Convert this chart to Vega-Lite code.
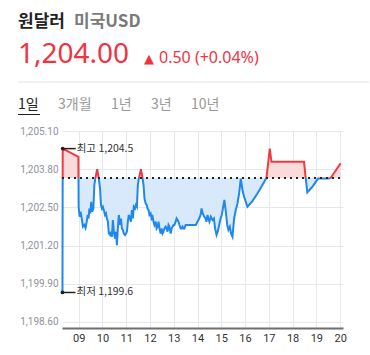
{
"$schema": "https://vega.github.io/schema/vega-lite/v6.json",
"padding": {"left": 17, "top": 13, "right": 0, "bottom": 0},
"spacing": 0,
"config": {"view": {"stroke": null}, "axis": {"labelOverlap": false, "labelFlush": false}},
"vconcat": [
 {"spacing": 0, "hconcat": [
  {"data": {"values": [{}]}, "mark": {"type": "point", "filled": true, "size": 0, "opacity": 0}, "width": 1, "height": 1,
   "title": {"text": "원달러", "anchor": "start", "frame": "group", "baseline": "alphabetic", "offset": -4, "font": "Noto Sans CJK KR", "fontSize": 17, "fontWeight": "bold", "color": "#222222"}},
  {"data": {"values": [{}]}, "mark": {"type": "point", "filled": true, "size": 0, "opacity": 0}, "width": 1, "height": 1,
   "title": {"text": "미국USD", "anchor": "start", "frame": "group", "baseline": "alphabetic", "offset": -4, "dx": 9, "font": "Noto Sans CJK KR", "fontSize": 17, "fontWeight": "bold", "color": "#7a7a7a"}}
 ]},
 {"spacing": 0, "hconcat": [
  {"data": {"values": [{}]}, "mark": {"type": "point", "filled": true, "size": 0, "opacity": 0}, "width": 1, "height": 1,
   "title": {"text": "1,204.00", "anchor": "start", "frame": "group", "baseline": "alphabetic", "offset": -11, "font": "Noto Sans", "fontSize": 28, "fontWeight": "normal", "color": "#f2333f"}},
  {"data": {"values": [{}]}, "mark": {"type": "point", "filled": true, "size": 0, "opacity": 0}, "width": 1, "height": 1,
   "title": {"text": "▲", "anchor": "start", "frame": "group", "baseline": "alphabetic", "offset": 4, "dx": 14, "font": "DejaVu Sans", "fontSize": 13, "fontWeight": "normal", "color": "#f2333f"}},
  {"data": {"values": [{}]}, "mark": {"type": "point", "filled": true, "size": 0, "opacity": 0}, "width": 1, "height": 1,
   "title": {"text": "0.50 (+0.04%)", "anchor": "start", "frame": "group", "baseline": "alphabetic", "offset": 1, "dx": 5, "font": "Noto Sans", "fontSize": 16, "fontWeight": "normal", "color": "#f2333f"}}
 ]},
 {"data": {"values": [{}]}, "width": 351, "height": 16,
  "mark": {"type": "rule", "color": "#e2e2e2", "strokeWidth": 1},
  "encoding": {"y": {"datum": 1, "type": "quantitative", "scale": {"domain": [0, 1]}, "axis": null}}},
 {"spacing": 0, "hconcat": [
  {"data": {"values": [{}]}, "mark": {"type": "point", "filled": true, "size": 0, "opacity": 0}, "width": 22, "height": 1, "view": {"fill": "#222222", "stroke": null},
   "title": {"text": "1일", "anchor": "start", "frame": "group", "baseline": "alphabetic", "offset": -9, "font": "Noto Sans CJK KR", "fontSize": 14, "fontWeight": "normal", "color": "#222222"}},
  {"data": {"values": [{}]}, "mark": {"type": "point", "filled": true, "size": 0, "opacity": 0}, "width": 1, "height": 12,
   "title": {"text": "3개월", "anchor": "start", "frame": "group", "baseline": "alphabetic", "offset": -9, "dx": 18, "font": "Noto Sans CJK KR", "fontSize": 14, "fontWeight": "normal", "color": "#999999"}},
  {"data": {"values": [{}]}, "mark": {"type": "point", "filled": true, "size": 0, "opacity": 0}, "width": 1, "height": 12,
   "title": {"text": "1년", "anchor": "start", "frame": "group", "baseline": "alphabetic", "offset": -9, "dx": 19, "font": "Noto Sans CJK KR", "fontSize": 14, "fontWeight": "normal", "color": "#999999"}},
  {"data": {"values": [{}]}, "mark": {"type": "point", "filled": true, "size": 0, "opacity": 0}, "width": 1, "height": 12,
   "title": {"text": "3년", "anchor": "start", "frame": "group", "baseline": "alphabetic", "offset": -9, "dx": 19, "font": "Noto Sans CJK KR", "fontSize": 14, "fontWeight": "normal", "color": "#999999"}},
  {"data": {"values": [{}]}, "mark": {"type": "point", "filled": true, "size": 0, "opacity": 0}, "width": 1, "height": 12,
   "title": {"text": "10년", "anchor": "start", "frame": "group", "baseline": "alphabetic", "offset": -9, "dx": 19, "font": "Noto Sans CJK KR", "fontSize": 14, "fontWeight": "normal", "color": "#999999"}}
 ]},
 {"spacing": 0, "hconcat": [
  {"data": {"values": [{}]}, "mark": {"type": "point", "filled": true, "size": 0, "opacity": 0}, "width": 1, "height": 1},
  {"width": 281, "height": 197,
   "data": {"values": [
{"t":8.32,"v":1199.6},{"t":8.33,"v":1204.5},{"t":8.99,"v":1204.22},{"t":9.0,"v":1202.52},{"t":9.04,"v":1202.18},{"t":9.08,"v":1202.35},{"t":9.13,"v":1202.12},{"t":9.18,"v":1201.84},{"t":9.24,"v":1201.9},{"t":9.29,"v":1201.8},{"t":9.34,"v":1202.01},{"t":9.38,"v":1202.24},{"t":9.42,"v":1202.12},{"t":9.45,"v":1202.46},{"t":9.49,"v":1202.29},{"t":9.53,"v":1202.69},{"t":9.57,"v":1202.35},{"t":9.62,"v":1202.46},{"t":9.66,"v":1203.26},{"t":9.7,"v":1203.48},{"t":9.78,"v":1203.8},{"t":9.85,"v":1203.48},{"t":9.9,"v":1203.14},{"t":9.94,"v":1202.58},{"t":9.98,"v":1202.46},{"t":10.02,"v":1202.52},{"t":10.06,"v":1202.41},{"t":10.11,"v":1202.24},{"t":10.15,"v":1202.29},{"t":10.19,"v":1202.12},{"t":10.23,"v":1202.01},{"t":10.27,"v":1201.61},{"t":10.32,"v":1201.56},{"t":10.36,"v":1201.67},{"t":10.4,"v":1201.5},{"t":10.44,"v":1202.07},{"t":10.48,"v":1201.67},{"t":10.53,"v":1201.44},{"t":10.57,"v":1201.67},{"t":10.61,"v":1201.21},{"t":10.65,"v":1201.78},{"t":10.69,"v":1202.24},{"t":10.74,"v":1201.9},{"t":10.78,"v":1202.12},{"t":10.82,"v":1201.78},{"t":10.86,"v":1201.73},{"t":10.9,"v":1201.61},{"t":10.95,"v":1201.56},{"t":10.99,"v":1201.61},{"t":11.03,"v":1201.67},{"t":11.07,"v":1202.01},{"t":11.11,"v":1202.24},{"t":11.16,"v":1202.12},{"t":11.2,"v":1202.01},{"t":11.24,"v":1202.41},{"t":11.28,"v":1202.12},{"t":11.32,"v":1202.52},{"t":11.37,"v":1202.46},{"t":11.41,"v":1202.58},{"t":11.45,"v":1202.52},{"t":11.49,"v":1203.26},{"t":11.53,"v":1203.48},{"t":11.62,"v":1203.8},{"t":11.69,"v":1203.48},{"t":11.73,"v":1203.26},{"t":11.77,"v":1202.8},{"t":11.82,"v":1202.63},{"t":11.86,"v":1202.58},{"t":11.9,"v":1202.46},{"t":11.94,"v":1202.41},{"t":11.98,"v":1202.24},{"t":12.03,"v":1202.29},{"t":12.07,"v":1202.12},{"t":12.11,"v":1202.18},{"t":12.15,"v":1202.01},{"t":12.19,"v":1201.9},{"t":12.24,"v":1202.01},{"t":12.28,"v":1201.78},{"t":12.32,"v":1201.84},{"t":12.36,"v":1202.01},{"t":12.4,"v":1201.78},{"t":12.45,"v":1201.61},{"t":12.49,"v":1201.78},{"t":12.53,"v":1201.61},{"t":12.57,"v":1201.67},{"t":12.61,"v":1201.78},{"t":12.66,"v":1201.84},{"t":12.7,"v":1201.78},{"t":12.74,"v":1201.67},{"t":12.78,"v":1201.9},{"t":12.82,"v":1201.84},{"t":12.87,"v":1201.61},{"t":12.91,"v":1201.78},{"t":12.95,"v":1201.84},{"t":12.99,"v":1201.9},{"t":13.03,"v":1201.9},{"t":13.08,"v":1202.01},{"t":13.12,"v":1202.12},{"t":13.16,"v":1202.07},{"t":13.2,"v":1202.01},{"t":13.24,"v":1201.9},{"t":13.29,"v":1201.78},{"t":13.33,"v":1201.78},{"t":13.37,"v":1201.84},{"t":13.41,"v":1201.78},{"t":13.45,"v":1201.78},{"t":13.5,"v":1201.9},{"t":13.72,"v":1201.9},{"t":13.93,"v":1201.9},{"t":14.0,"v":1202.01},{"t":14.07,"v":1202.12},{"t":14.13,"v":1202.24},{"t":14.17,"v":1202.46},{"t":14.22,"v":1202.29},{"t":14.28,"v":1202.18},{"t":14.34,"v":1202.12},{"t":14.38,"v":1202.01},{"t":14.42,"v":1202.24},{"t":14.46,"v":1202.12},{"t":14.5,"v":1202.01},{"t":14.56,"v":1202.18},{"t":14.63,"v":1202.07},{"t":14.69,"v":1202.12},{"t":14.74,"v":1201.78},{"t":14.8,"v":1201.56},{"t":14.85,"v":1201.67},{"t":14.91,"v":1201.9},{"t":14.97,"v":1202.12},{"t":15.02,"v":1202.24},{"t":15.08,"v":1202.52},{"t":15.13,"v":1202.75},{"t":15.19,"v":1202.35},{"t":15.25,"v":1201.9},{"t":15.3,"v":1201.73},{"t":15.36,"v":1201.84},{"t":15.41,"v":1201.61},{"t":15.47,"v":1201.5},{"t":15.54,"v":1202.12},{"t":15.61,"v":1202.41},{"t":15.68,"v":1202.63},{"t":15.75,"v":1202.97},{"t":15.82,"v":1203.48},{"t":15.89,"v":1203.09},{"t":15.96,"v":1202.86},{"t":16.1,"v":1202.52},{"t":16.31,"v":1202.71},{"t":16.52,"v":1202.97},{"t":16.73,"v":1203.26},{"t":16.9,"v":1203.5},{"t":17.04,"v":1204.5},{"t":17.11,"v":1204.05},{"t":18.48,"v":1204.05},{"t":18.55,"v":1203.5},{"t":18.62,"v":1203.01},{"t":18.83,"v":1203.2},{"t":19.07,"v":1203.48},{"t":19.53,"v":1203.48},{"t":19.6,"v":1203.5},{"t":20.02,"v":1204.0}
   ]},
   "encoding": {
    "x": {"field": "t", "type": "quantitative", "scale": {"domain": [8.3, 20.12], "nice": false, "zero": false},
          "axis": {"title": null, "values": [9,10,11,12,13,14,15,16,17,18,19,20], "format": "02d", "labelOverlap": false, "labelFlush": false, "grid": true, "gridColor": "#e6e8ec", "ticks": false, "domain": true, "domainColor": "#6f6f6f", "domainWidth": 2, "labelColor": "#333333", "labelFont": "Roboto", "labelFontSize": 11, "labelPadding": 4}},
    "y": {"field": "v", "type": "quantitative", "scale": {"domain": [1198.39, 1205.1], "nice": false, "zero": false},
          "axis": {"title": null, "values": [1198.6, 1199.9, 1201.2, 1202.5, 1203.8, 1205.1], "format": ",.2f", "labelOverlap": false, "labelFlush": false, "grid": true, "gridColor": "#e6e8ec", "ticks": false, "domain": false, "labelColor": "#8e949c", "labelFont": "Roboto", "labelFontSize": 10, "labelPadding": 4}}
   },
   "layer": [
    {"mark": {"type": "area", "fill": {"gradient": "linear", "x1": 0, "y1": 0, "x2": 0, "y2": 1, "stops": [{"offset": 0, "color": "#fbdadc"}, {"offset": 0.2041, "color": "#fbdadc"}, {"offset": 0.2041, "color": "#d9e9fc"}, {"offset": 1, "color": "#d9e9fc"}]}},
     "encoding": {"y2": {"datum": 1203.5}}},
    {"mark": {"type": "line", "strokeWidth": 2, "stroke": {"gradient": "linear", "x1": 0, "y1": 0, "x2": 0, "y2": 1, "stops": [{"offset": 0, "color": "#ef3a3f"}, {"offset": 0.2041, "color": "#ef3a3f"}, {"offset": 0.2041, "color": "#1f87ee"}, {"offset": 1, "color": "#1f87ee"}]}}},
    {"data": {"values": [{"t": 8.3, "t1": 20.12, "v": 1203.5}]}, "mark": {"type": "rule", "color": "#222222", "strokeDash": [2, 4], "strokeWidth": 2},
     "encoding": {"x2": {"field": "t1"}}},
    {"data": {"values": [{"t": 8.32, "v": 1199.6, "label": "최저 1,199.6"}, {"t": 8.33, "v": 1204.5, "label": "최고 1,204.5"}]},
     "layer": [
      {"mark": {"type": "rule", "color": "#222222", "strokeWidth": 1.5, "x2Offset": 13},
       "encoding": {"x2": {"field": "t"}}},
      {"mark": {"type": "point", "filled": true, "color": "#222222", "size": 14, "opacity": 1}},
      {"mark": {"type": "text", "align": "left", "baseline": "middle", "dx": 14, "font": "Noto Sans CJK KR", "fontSize": 10.5, "color": "#333333"},
       "encoding": {"text": {"field": "label"}}}
     ]}
   ]}
 ]}
]
}
